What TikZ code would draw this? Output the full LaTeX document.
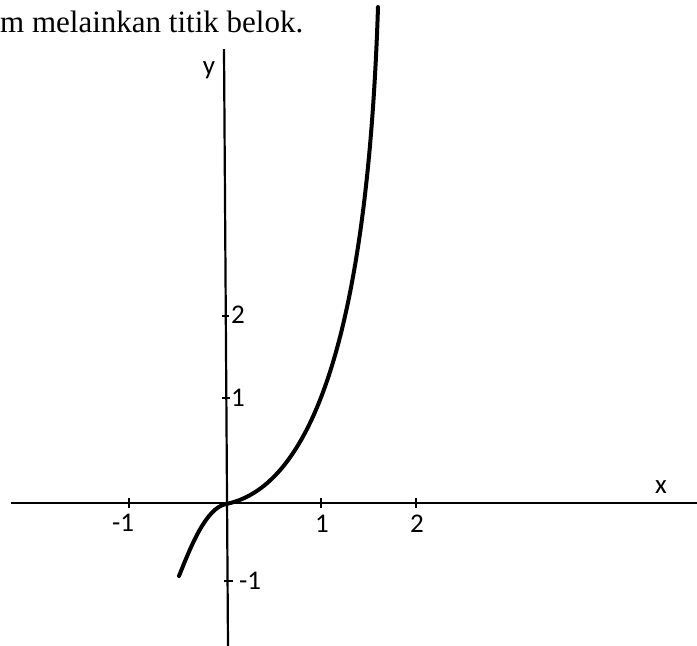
\documentclass[tikz,border=0pt]{standalone}
\usepackage{fontspec}
\setmainfont{Liberation Serif}
\newfontfamily\labfont{Carlito}
\begin{document}
\begin{tikzpicture}[x=1pt,y=-1pt,
  axis/.style={line width=2.2pt},
  tickmark/.style={line width=1.8pt},
  lab/.style={font=\labfont\fontsize{27}{31}\selectfont, inner sep=0pt, anchor=base},
  curve/.style={line width=4pt, line cap=round}]
\useasboundingbox (0,0) rectangle (697,646);
\node[anchor=base west, inner sep=0pt, font=\fontsize{31}{36}\selectfont] (cap) at (0,32) {m melainkan titik belok.};
% axes
\coordinate (xl) at (11,503); \coordinate (xr) at (697,503);
\coordinate (yt) at (224,49); \coordinate (yb) at (228,646);
\draw[axis] (xl) -- (xr);
\draw[axis] (yt) -- (yb);
% x ticks
\foreach \px/\nm in {129/xm1,321/xp1,416/xp2}{
  \coordinate (\nm a) at (\px,498); \coordinate (\nm b) at (\px,508);
  \draw[tickmark] (\nm a) -- (\nm b);
}
% y ticks
\coordinate (y2a) at (222,316); \coordinate (y2b) at (229,316);
\coordinate (y1a) at (222,398); \coordinate (y1b) at (230,398);
\coordinate (ym1a) at (224,581); \coordinate (ym1b) at (233,581);
\draw[tickmark] (y2a) -- (y2b);
\draw[tickmark] (y1a) -- (y1b);
\draw[tickmark] (ym1a) -- (ym1b);
% labels
\node[lab] (ylab) at (209,74) {y};
\node[lab] (xlab) at (661,493) {x};
\node[lab] (lxm1) at (123,531) {-1};
\node[lab] (lxp1) at (322,532) {1};
\node[lab] (lxp2) at (417,532) {2};
\node[lab, anchor=base west] (ly2) at (231,323) {2};
\node[lab, anchor=base west] (ly1) at (231,406) {1};
\node[lab, anchor=base west] (lym1) at (239,589) {-1};
% curve
\coordinate (cstart) at (179,576);
\coordinate (corig) at (226,504);
\coordinate (cend) at (378,7);
\draw[curve] (cstart) .. controls (191,546) and (206,508) .. (corig)
  .. controls (296,490) and (366,380) .. (cend);
\end{tikzpicture}
\end{document}
